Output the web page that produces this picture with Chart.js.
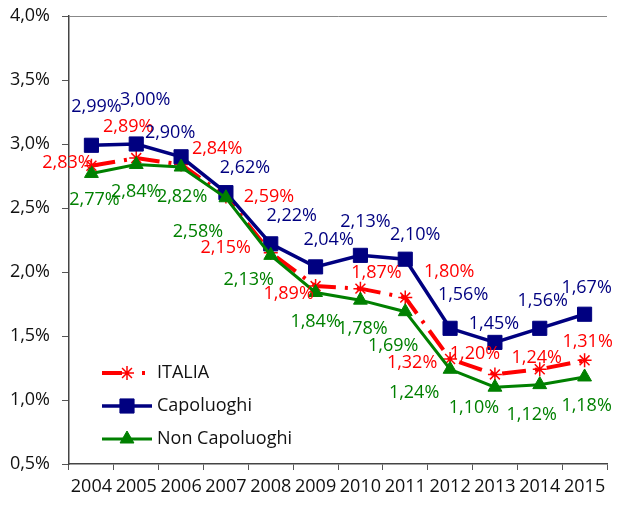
<!DOCTYPE html>
<html>
<head>
<meta charset="utf-8">
<script src="https://cdn.jsdelivr.net/npm/chart.js@4.4.1/dist/chart.umd.min.js"></script>
<style>
    body { margin: 0; background: #fff; }
    canvas { display: block; }
</style>
</head>
<body>
<canvas id="chart" width="618" height="505"></canvas>
<script>
const years = ['2004', '2005', '2006', '2007', '2008', '2009', '2010', '2011', '2012', '2013', '2014', '2015'];
const italia = [2.83, 2.89, 2.84, 2.59, 2.15, 1.89, 1.87, 1.80, 1.32, 1.20, 1.24, 1.31];
const capoluoghi = [2.99, 3.00, 2.90, 2.62, 2.22, 2.04, 2.13, 2.10, 1.56, 1.45, 1.56, 1.67];
const nonCapoluoghi = [2.77, 2.84, 2.82, 2.58, 2.13, 1.84, 1.78, 1.69, 1.24, 1.10, 1.12, 1.18];
const yTicks = [0.5, 1.0, 1.5, 2.0, 2.5, 3.0, 3.5, 4.0];

// label offsets (px) from each point, placed by hand like in the original
const italiaOffsets = [[-24, -3], [-8, -31], [36, -16], [43, 0], [-45, -5], [-27, 8], [16, -16], [44, -26], [-38, 4], [-20, -21], [-3, -11], [3, -18]];
const capoOffsets = [[5, -38], [9, -44], [-11, -24], [19, -25], [21, -28], [13, -27], [5, -33], [10, -24], [13, -33], [-1, -19], [3, -27], [2, -26]];
const nonCapoOffsets = [[3, 26], [0, 27], [1, 30], [-28, 34], [-22, 25], [0, 29], [2, 29], [-12, 34], [-36, 24], [-21, 21], [-8, 30], [2, 29]];

const FONT = '"Open Sans", "Liberation Sans", sans-serif';

function pct(v, d) {
    return v.toFixed(d).replace('.', ',') + '%';
}

const pointLabels = {
    id: 'pointLabels',
    afterDatasetsDraw(chart) {
        const ctx = chart.ctx;
        ctx.save();
        ctx.font = '18px ' + FONT;
        ctx.textAlign = 'center';
        ctx.textBaseline = 'middle';
        chart.data.datasets.forEach(function(ds, i) {
            const meta = chart.getDatasetMeta(i);
            ctx.fillStyle = ds.labelColor;
            meta.data.forEach(function(pt, j) {
                const off = ds.labelOffsets[j];
                ctx.fillText(pct(ds.data[j], 2), pt.x + off[0], pt.y + off[1]);
            });
        });
        ctx.restore();
    }
};

const insideLegend = {
    id: 'insideLegend',
    afterDraw(chart) {
        const ctx = chart.ctx;
        const rows = [373, 406, 439];
        ctx.save();
        chart.data.datasets.forEach(function(ds, i) {
            const y = rows[i];
            ctx.strokeStyle = ds.borderColor;
            ctx.fillStyle = ds.backgroundColor;
            ctx.lineWidth = ds.borderWidth;
            ctx.lineCap = 'butt';
            ctx.beginPath();
            if (ds.borderDash.length) {
                ctx.moveTo(102, y); ctx.lineTo(122, y);
                ctx.moveTo(142, y); ctx.lineTo(145, y);
            } else {
                ctx.moveTo(102, y); ctx.lineTo(152, y);
            }
            ctx.stroke();
            ctx.lineWidth = ds.pointBorderWidth;
            Chart.helpers.drawPoint(ctx, {
                pointStyle: ds.pointStyle,
                radius: ds.pointRadius,
                rotation: 0,
                borderWidth: ds.pointBorderWidth
            }, 127, y);
            ctx.fillStyle = '#111';
            ctx.font = '18px ' + FONT;
            ctx.textAlign = 'left';
            ctx.textBaseline = 'middle';
            ctx.fillText(ds.label, 157, y);
        });
        ctx.restore();
    }
};

new Chart(document.getElementById('chart'), {
    type: 'line',
    data: {
        labels: years,
        datasets: [{
            label: 'ITALIA',
            data: italia,
            borderColor: '#FF0000',
            backgroundColor: '#FF0000',
            borderWidth: 4,
            borderDash: [24, 9, 3, 9],
            pointStyle: 'star',
            pointRadius: 7,
            pointBorderWidth: 1.5,
            labelColor: '#FF0000',
            labelOffsets: italiaOffsets,
            order: 2
        }, {
            label: 'Capoluoghi',
            data: capoluoghi,
            borderColor: '#000080',
            backgroundColor: '#000080',
            borderWidth: 3.5,
            borderDash: [],
            pointStyle: 'rect',
            pointRadius: 10,
            pointBorderWidth: 1,
            labelColor: '#000080',
            labelOffsets: capoOffsets,
            order: 1
        }, {
            label: 'Non Capoluoghi',
            data: nonCapoluoghi,
            borderColor: '#008000',
            backgroundColor: '#008000',
            borderWidth: 3,
            borderDash: [],
            pointStyle: 'triangle',
            pointRadius: 8,
            pointBorderWidth: 1,
            labelColor: '#008000',
            labelOffsets: nonCapoOffsets,
            order: 0
        }]
    },
    options: {
        responsive: false,
        animation: false,
        layout: { padding: { top: 16, right: 0, left: 0, bottom: 0 } },
        plugins: {
            legend: { display: false },
            tooltip: { enabled: false }
        },
        elements: { line: { tension: 0 } },
        scales: {
            x: {
                offset: true,
                grid: {
                    offset: true,
                    drawOnChartArea: false,
                    tickLength: 6,
                    tickColor: '#555',
                    tickWidth: 1
                },
                border: { color: '#444', width: 1.5 },
                ticks: {
                    color: '#111',
                    font: { family: FONT, size: 18 },
                    padding: 6,
                    maxRotation: 0,
                    autoSkip: false
                },
                afterFit: function(s) { s.height = 41; }
            },
            y: {
                min: 0.5,
                max: 4.0,
                afterBuildTicks: function(s) {
                    s.ticks = yTicks.map(function(v) { return { value: v }; });
                },
                grid: {
                    color: function(c) { return c.tick && c.tick.value === 4 ? '#888' : 'rgba(0,0,0,0)'; },
                    tickColor: '#555',
                    tickLength: 7
                },
                border: { color: '#444', width: 1.5 },
                ticks: {
                    color: '#111',
                    font: { family: FONT, size: 18 },
                    padding: 12,
                    callback: function(v) { return pct(v, 1); }
                },
                afterFit: function(s) {
                    s.width = 69;
                    s.paddingTop = 0;
                    s.paddingBottom = 0;
                }
            }
        }
    },
    plugins: [pointLabels, insideLegend]
});
</script>
</body>
</html>
